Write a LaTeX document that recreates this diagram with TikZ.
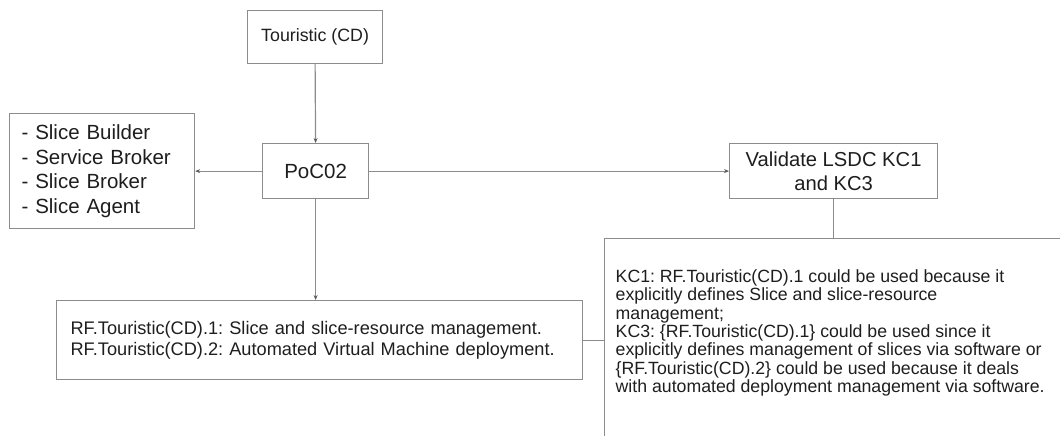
\documentclass[tikz,border=0pt]{standalone}
\usepackage{fontspec}
\setmainfont{Liberation Sans}
\frenchspacing
\usetikzlibrary{arrows.meta}
\definecolor{edge}{HTML}{8C8C8C}
\definecolor{tip}{HTML}{5A5A5A}
\definecolor{ink}{HTML}{1E1E1E}
\begin{document}
\begin{tikzpicture}[x=1pt,y=-1pt,
  box/.style={draw=edge, line width=1.2pt, text=ink, inner sep=0pt, anchor=north west, align=center},
  link/.style={draw=edge, line width=1.2pt},
  flow/.style={link, -{Stealth[length=5pt,width=4pt,color=tip]}},
  big/.style={font=\fontsize{20.5}{24.5}\selectfont},
  mid/.style={font=\fontsize{17.8}{21}\selectfont},
  small/.style={font=\fontsize{18.2}{21}\selectfont},
  tight/.style={font=\fontsize{17.7}{18.3}\selectfont}
]
\useasboundingbox (0,0) rectangle (1060,436);
\clip (0,0) rectangle (1060,436);

% boxes
\node[box, mid, minimum width=135pt, minimum height=53pt] (tour) at (247,10) {Touristic (CD)};
\node[box, big, minimum width=106pt, minimum height=55pt] (poc) at (262,143) {PoC02};
\node[box, big, minimum width=185pt, minimum height=115pt, align=left,
      text width=161pt, inner xsep=12pt] (list) at (9,113)
  {- Slice Builder\\- Service Broker\\- Slice Broker\\- Slice Agent};
\node[box, font=\fontsize{20.2}{24}\selectfont, minimum width=208pt, minimum height=55pt] (val) at (729,143)
  {Validate LSDC KC1\\and KC3};
\node[box, small, minimum width=526pt, minimum height=79pt, align=left,
      text width=498pt, inner xsep=14pt] (rf) at (56,300)
  {RF.Touristic(CD).1: Slice and slice-resource management.\\
   RF.Touristic(CD).2: Automated Virtual Machine deployment.};
\node[box, minimum width=500pt, minimum height=260pt] (kc) at (604,238) {};
\node[tight, text=ink, anchor=north west, align=left, inner sep=0pt] (kctext) at (615.5,269.5)
  {KC1: RF.Touristic(CD).1 could be used because it\\
   explicitly defines Slice and slice-resource\\
   management;\\
   KC3: \{RF.Touristic(CD).1\} could be used since it\\
   explicitly defines management of slices via software or\\
   \{RF.Touristic(CD).2\} could be used because it deals\\
   with automated deployment management via software.};

% connectors
\draw[flow] (tour.south) -- (poc.north);
\draw[flow] (poc.west) -- (list.east);
\draw[flow] (poc.east) -- (val.west);
\draw[flow] (poc.south) -- (poc.south |- rf.north);
\draw[link] (val.south) -- (val.south |- kc.north);
\draw[link] (rf.east) -- (rf.east -| kc.west);
\end{tikzpicture}
\end{document}
